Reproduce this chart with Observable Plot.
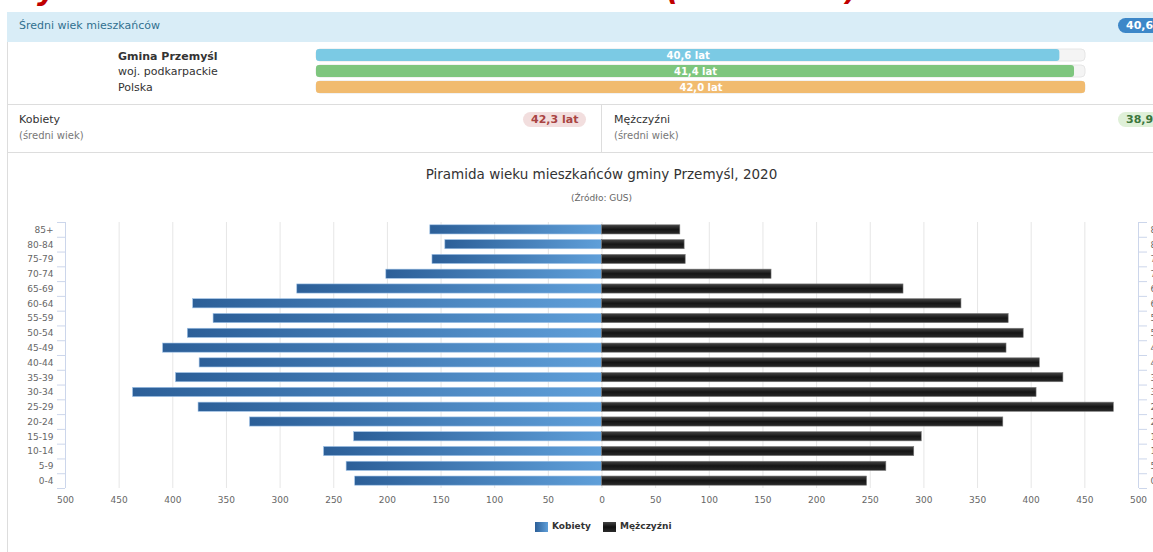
<!DOCTYPE html>
<html><head><meta charset="utf-8">
<script src="https://cdn.jsdelivr.net/npm/d3@7"></script>
<script src="https://cdn.jsdelivr.net/npm/@observablehq/plot@0.6"></script>
<style>
html,body{margin:0;padding:0;}
body{width:1153px;height:552px;overflow:hidden;position:relative;background:#fff;font-family:"DejaVu Sans",Verdana,sans-serif;color:#333;}
.a{position:absolute;white-space:nowrap;}
.red{left:0;top:0;width:1153px;height:10px;overflow:hidden;}
.red span{position:absolute;top:-28px;font:italic bold 30px "DejaVu Sans",sans-serif;color:#c00000;}
.hdr{left:7px;top:12px;width:1160px;height:30px;background:#d9edf7;}
.hdr .t{left:12px;top:7px;font-size:11px;color:#31708f;}
.badge{font-size:11px;font-weight:bold;border-radius:9px;padding:1px 8px;line-height:13px;}
.vline{background:#ddd;width:1px;}
.hline{background:#ddd;height:1px;}
.lbl{font-size:11px;color:#333;}
.sub{font-size:10px;color:#777;}
.title{left:0;width:1203px;text-align:center;}
.leg{font-size:9px;font-weight:bold;color:#333;}
.sw{width:13px;height:10px;}
#pyr svg{max-width:none !important;}
</style></head><body>
<svg width="0" height="0" style="position:absolute">
<defs>
<linearGradient id="gf" x1="0" x2="1" y1="0" y2="0">
<stop offset="0" stop-color="#2c5f98"/><stop offset="1" stop-color="#5f9fd9"/>
</linearGradient>
<linearGradient id="gm" x1="0" x2="0" y1="0" y2="1">
<stop offset="0" stop-color="#444"/><stop offset="0.5" stop-color="#151515"/><stop offset="1" stop-color="#2a2a2a"/>
</linearGradient>
</defs>
</svg>
<div class="a red"><span style="left:4px">Wykres: wiek mieszkańców i struktura (GUS 2020)</span></div>
<div class="a vline" style="left:7px;top:12px;height:540px"></div>
<div class="a hdr"><div class="a t">Średni wiek mieszkańców</div>
<div class="a badge" id="b0" style="left:1111px;top:6px;background:#3d87c8;color:#fff"></div></div>
<div class="a lbl" style="left:118px;top:50px;font-weight:bold">Gmina Przemyśl</div>
<div class="a lbl" style="left:118px;top:65px">woj. podkarpackie</div>
<div class="a lbl" style="left:118px;top:81px">Polska</div>
<div class="a" id="avg" style="left:316px;top:47px"></div>
<div class="a hline" style="left:7px;top:104px;width:1146px"></div>
<div class="a lbl" style="left:19px;top:113px">Kobiety</div>
<div class="a sub" style="left:19px;top:130px">(średni wiek)</div>
<div class="a badge" id="bk" style="left:523px;top:112px;background:#f2dede;color:#a94442"></div>
<div class="a vline" style="left:601px;top:104px;height:48px"></div>
<div class="a lbl" style="left:614px;top:113px">Mężczyźni</div>
<div class="a sub" style="left:614px;top:130px">(średni wiek)</div>
<div class="a badge" id="bm" style="left:1118px;top:112px;background:#dff0d8;color:#3c763d"></div>
<div class="a hline" style="left:7px;top:152px;width:1146px"></div>
<div class="a title" style="top:166px;font-size:13.5px;color:#333" id="ttl"></div>
<div class="a title" style="top:193px;font-size:9px;color:#666" id="src"></div>
<div class="a" id="pyr" style="left:0;top:212px;width:1180px"></div>
<div class="a sw" style="left:535px;top:522px;background:linear-gradient(90deg,#2c5f98,#5f9fd9)"></div>
<div class="a leg" style="left:552px;top:521px" id="lk"></div>
<div class="a sw" style="left:603px;top:522px;background:linear-gradient(180deg,#444,#111 50%,#2a2a2a)"></div>
<div class="a leg" style="left:620px;top:521px" id="lm"></div>
<script>
// ---- data ----
const ageGroups = ["85+","80-84","75-79","70-74","65-69","60-64","55-59","50-54","45-49","40-44","35-39","30-34","25-29","20-24","15-19","10-14","5-9","0-4"];
const women = [160,146,158,201,284,381,362,386,409,375,397,437,376,328,231,259,238,230];
const men   = [73,77,78,158,281,335,379,393,377,408,430,405,477,374,298,291,265,247];
const xTicks = [-500,-450,-400,-350,-300,-250,-200,-150,-100,-50,0,50,100,150,200,250,300,350,400,450,500];
const seriesNames = ["Kobiety","Mężczyźni"];
const avgNames = ["Gmina Przemyśl","woj. podkarpackie","Polska"];
const avgValues = [40.6,41.4,42.0];
const avgWomen = 42.3;
const avgMen = 38.9;
const avgTotal = 40.6;
const chartTitle = "Piramida wieku mieszkańców gminy Przemyśl, 2020";
const chartSource = "(Źródło: GUS)";

const fmt = v => v.toFixed(1).replace(".", ",") + " lat";
document.getElementById("b0").textContent = fmt(avgTotal);
document.getElementById("bk").textContent = fmt(avgWomen);
document.getElementById("bm").textContent = fmt(avgMen);
document.getElementById("ttl").textContent = chartTitle;
document.getElementById("src").textContent = chartSource;
document.getElementById("lk").textContent = seriesNames[0];
document.getElementById("lm").textContent = seriesNames[1];

// ---- average bars ----
const avgRows = avgNames.map((n, i) => ({name: n, value: avgValues[i]}));
const avgMax = d3.max(avgValues);
const avgPlot = Plot.plot({
  width: 769, height: 48, margin: 0,
  x: {domain: [0, avgMax], axis: null},
  y: {domain: avgNames, axis: null, paddingInner: 0.25, paddingOuter: 0.125},
  color: {domain: avgNames, range: ["#7bcae4", "#7ec67e", "#f1bb6f"]},
  style: {fontFamily: "DejaVu Sans, sans-serif", overflow: "visible"},
  marks: [
    Plot.barX(avgRows, {x: avgMax, y: "name", fill: "#f4f4f4", stroke: "#e6e6e6", rx: 4}),
    Plot.barX(avgRows, {x: "value", y: "name", fill: "name", rx: 3}),
    Plot.text(avgRows, {x: d => d.value / 2, y: "name", text: d => fmt(d.value), fill: "#fff", fontWeight: "bold", fontSize: 10})
  ]
});
document.getElementById("avg").appendChild(avgPlot);

// ---- pyramid ----
const rows = ageGroups.map((g, i) => ({g, i, w: women[i], m: men[i]}));
const idx = ageGroups.map((_, i) => i);
const bounds = idx.map(i => i - 0.5).concat([ageGroups.length - 0.5]);
const h = 0.31;
const pyr = Plot.plot({
  width: 1180, height: 306,
  marginLeft: 65, marginRight: 42, marginTop: 10, marginBottom: 30,
  x: {domain: [-500, 500]},
  y: {domain: [-0.5, ageGroups.length - 0.5], reverse: true},
  style: {fontFamily: "DejaVu Sans, sans-serif", fontSize: "9px", color: "#666", overflow: "visible", maxWidth: "none"},
  marks: [
    Plot.ruleX(xTicks, {y1: -0.5, y2: ageGroups.length - 0.5, stroke: "#e6e6e6"}),
    Plot.rect(rows, {x1: d => -d.w, x2: 0, y1: d => d.i - h, y2: d => d.i + h, fill: "url(#gf)", stroke: "#9cc0e6", strokeWidth: 0.6}),
    Plot.rect(rows, {x1: 0, x2: d => d.m, y1: d => d.i - h, y2: d => d.i + h, fill: "url(#gm)", stroke: "#777", strokeWidth: 0.6}),
    Plot.ruleX([-500, 500], {y1: -0.5, y2: ageGroups.length - 0.5, stroke: "#ccd6eb"}),
    Plot.axisY({anchor: "left", ticks: bounds, tickSize: 8, tickFormat: () => "", stroke: "#ccd6eb"}),
    Plot.axisY({anchor: "right", ticks: bounds, tickSize: 8, tickFormat: () => "", stroke: "#ccd6eb"}),
    Plot.axisY({anchor: "left", ticks: idx, tickSize: 0, tickPadding: 12, tickFormat: i => ageGroups[i], fill: "#666", label: null}),
    Plot.axisY({anchor: "right", ticks: idx, tickSize: 0, tickPadding: 12, tickFormat: i => ageGroups[i], fill: "#666", label: null}),
    Plot.axisX({ticks: xTicks, tickSize: 0, tickPadding: 8, tickFormat: d => Math.abs(d), fill: "#666", label: null})
  ]
});
pyr.style.maxWidth = "none";
document.getElementById("pyr").appendChild(pyr);
</script>
</body></html>
